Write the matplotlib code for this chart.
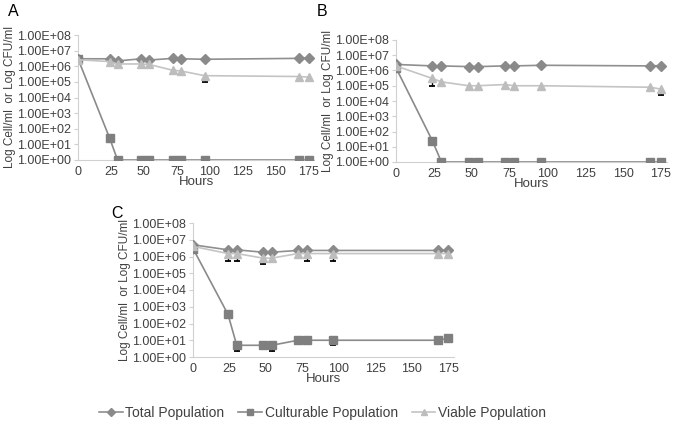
import matplotlib
matplotlib.use("Agg")
import matplotlib.pyplot as plt
from matplotlib.ticker import FuncFormatter, FixedLocator, NullLocator
from matplotlib.lines import Line2D
import numpy as np

plt.rcParams['font.family'] = ['Liberation Sans', 'DejaVu Sans']

hours = [0, 24, 30, 48, 54, 72, 78, 96, 168, 175]

# Panel A
a_total = [3.0e6, 3.0e6, 2.2e6, 3.0e6, 2.5e6, 3.2e6, 3.0e6, 2.8e6, 3.2e6, 3.5e6]
a_cult = [3.0e6, 25, 1, 1, 1, 1, 1, 1, 1, 1]
a_viable = [2.6e6, 2.0e6, 1.4e6, 1.4e6, 1.3e6, 5.5e5, 5.0e5, 2.5e5, 2.2e5, 2.0e5]
a_total_err = [0, 0, 0, 0, 0, 0, 0, 0, 0, 0]
a_cult_err = [0, 0, 0, 0, 0, 0, 0, 0, 0, 0]
a_viable_err = [0, 0, 0, 0, 0, 0, 0, 1.5e5, 0, 0]

# Panel B
b_total = [2.5e6, 2.0e6, 2.0e6, 1.8e6, 1.8e6, 2.0e6, 2.0e6, 2.2e6, 2.0e6, 2.1e6]
b_cult = [1.5e6, 25, 1, 1, 1, 1, 1, 1, 1, 1]
b_viable = [2.0e6, 3.0e5, 1.8e5, 1.0e5, 1.0e5, 1.2e5, 1.0e5, 1.0e5, 8.0e4, 6.0e4]
b_total_err = [0, 0, 0, 0, 0, 0, 0, 0, 0, 0]
b_cult_err = [0, 0, 0, 0, 0, 0, 0, 0, 0, 0]
b_viable_err = [0, 2.0e5, 0, 0, 0, 0, 0, 0, 0, 3.5e4]

# Panel C
c_total = [5.0e6, 2.5e6, 2.5e6, 1.8e6, 1.8e6, 2.3e6, 2.3e6, 2.3e6, 2.3e6, 2.3e6]
c_cult = [3.0e6, 350, 5, 5, 5, 10, 10, 10, 10, 13]
c_viable = [4.0e6, 1.5e6, 1.5e6, 8.0e5, 8.0e5, 1.5e6, 1.5e6, 1.5e6, 1.5e6, 1.5e6]
c_total_err = [0, 1.95e6, 1.95e6, 0, 0, 0, 1.75e6, 1.75e6, 0, 0]
c_cult_err = [0, 0, 2.6, 0, 2.6, 0, 0, 4.5, 0, 0]
c_viable_err = [0, 0, 0, 4.6e5, 0, 0, 0, 0, 0, 0]

series_names = ["Total Population", "Culturable Population", "Viable Population"]
ytick_vals = [1e0, 1e1, 1e2, 1e3, 1e4, 1e5, 1e6, 1e7, 1e8]
xtick_vals = [0, 25, 50, 75, 100, 125, 150, 175]

c_tot_line = '#8f8f8f'
c_tot_mk = '#8a8a8a'
c_cul_line = '#8a8a8a'
c_cul_mk = '#7f7f7f'
c_via_line = '#c4c4c4'
c_via_mk = '#bdbdbd'
txt_col = '#404040'

fig = plt.figure(figsize=(6.75, 4.26), dpi=100)
W, H = 675, 426

def make_ax(x0, top, bottom, width):
    return fig.add_axes([x0 / W, 1 - bottom / H, width / W, (bottom - top) / H])

def fmt(v, pos):
    e = int(round(np.log10(v)))
    return "1.00E+%02d" % e

def draw(ax, total, cult, viable, terr, cerr, verr):
    ax.set_yscale('log')
    ax.set_ylim(1, 1e8)
    ax.set_xlim(0, 179)
    # lower error bars (black), drawn beneath markers
    for vals, err in ((total, terr), (cult, cerr), (viable, verr)):
        idx = [i for i, e in enumerate(err) if e > 0]
        if idx:
            xs = [hours[i] for i in idx]
            ys = [vals[i] for i in idx]
            lows = [vals[i] - err[i] for i in idx]
            ax.vlines(xs, lows, ys, colors='black', lw=1.0, zorder=2.5)
            ax.plot(xs, lows, ls='none', marker='_', ms=5, mew=1.3,
                    color='black', zorder=2.5)
    ax.plot(hours, total, color=c_tot_line, lw=1.2, marker='D', ms=5,
            mfc=c_tot_mk, mec=c_tot_mk, zorder=3)
    ax.plot(hours, viable, color=c_via_line, lw=1.2, marker='^', ms=5.8,
            mfc=c_via_mk, mec=c_via_mk, zorder=4)
    ax.plot(hours, cult, color=c_cul_line, lw=1.2, marker='s', ms=5.4,
            mfc=c_cul_mk, mec=c_cul_mk, zorder=3)
    ax.yaxis.set_major_locator(FixedLocator(ytick_vals))
    ax.yaxis.set_minor_locator(NullLocator())
    ax.yaxis.set_major_formatter(FuncFormatter(fmt))
    ax.set_xticks(xtick_vals)
    for s in ('top', 'right'):
        ax.spines[s].set_visible(False)
    for s in ('left', 'bottom'):
        ax.spines[s].set_color('#d0d0d0')
        ax.spines[s].set_linewidth(0.8)
    ax.tick_params(axis='y', length=3, color='#d0d0d0', labelsize=9,
                   pad=2, labelcolor=txt_col)
    ax.tick_params(axis='x', length=0, labelsize=9, pad=4,
                   labelcolor=txt_col)
    ax.set_xlabel("Hours", fontsize=9.5, labelpad=-1, color=txt_col)
    ax.set_ylabel("Log Cell/ml  or Log CFU/ml", fontsize=8.5, labelpad=1,
                  color=txt_col)

axA = make_ax(78, 35, 160, 236)
draw(axA, a_total, a_cult, a_viable, a_total_err, a_cult_err, a_viable_err)
axB = make_ax(396, 40, 162, 271)
draw(axB, b_total, b_cult, b_viable, b_total_err, b_cult_err, b_viable_err)
axC = make_ax(193, 223, 357, 261)
draw(axC, c_total, c_cult, c_viable, c_total_err, c_cult_err, c_viable_err)

fig.text(13 / W, 1 - 12 / H, "A", fontsize=11.5, va='center', ha='center')
fig.text(322 / W, 1 - 12 / H, "B", fontsize=11.5, va='center', ha='center')
fig.text(117 / W, 1 - 213 / H, "C", fontsize=11.5, va='center', ha='center')

handles = [
    Line2D([], [], color=c_tot_line, lw=1.2, marker='D', ms=4, mfc=c_tot_mk, mec=c_tot_mk),
    Line2D([], [], color=c_cul_line, lw=1.2, marker='s', ms=4.5, mfc=c_cul_mk, mec=c_cul_mk),
    Line2D([], [], color=c_via_line, lw=1.2, marker='^', ms=4.5, mfc=c_via_mk, mec=c_via_mk),
]
fig.legend(handles, series_names, loc='center', bbox_to_anchor=(0.478, 1 - 413 / H),
           ncol=3, frameon=False, fontsize=10, handlelength=1.7,
           handletextpad=0.2, columnspacing=1.0, labelcolor=txt_col)

fig.savefig("out.png", dpi=100)
